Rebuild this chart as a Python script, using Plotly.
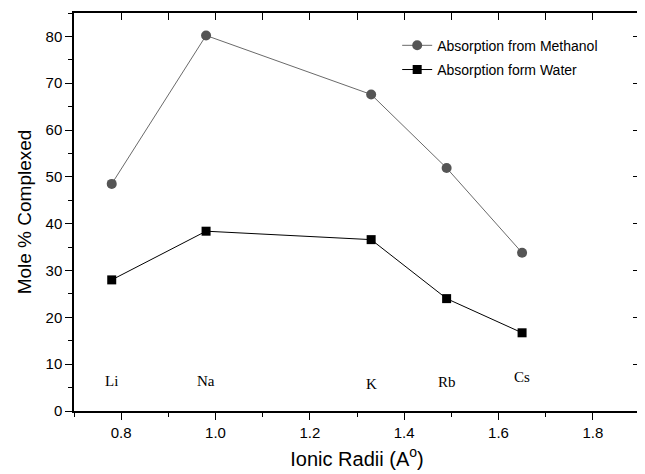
import plotly.graph_objects as go

# Data
elements = ["Li", "Na", "K", "Rb", "Cs"]
ionic_radii = [0.78, 0.98, 1.33, 1.49, 1.65]
methanol = [48.5, 80.2, 67.6, 51.9, 33.8]
water = [28.0, 38.4, 36.6, 24.0, 16.7]
label_y = [6.5, 6.5, 5.8, 6.3, 7.2]
x_ticks = [0.8, 1.0, 1.2, 1.4, 1.6, 1.8]
y_ticks = [0, 10, 20, 30, 40, 50, 60, 70, 80]

fig = go.Figure()
fig.add_trace(go.Scatter(
    x=ionic_radii, y=methanol, mode="lines+markers",
    name="Absorption from Methanol", legendgroup="a",
    line=dict(color="#6a6a6a", width=1),
    marker=dict(symbol="circle", size=10, color="#555555"),
))
fig.add_trace(go.Scatter(
    x=ionic_radii, y=water, mode="lines+markers",
    name="Absorption form Water", legendgroup="b",
    line=dict(color="#000000", width=1),
    marker=dict(symbol="square", size=9, color="#000000"),
))
# invisible trace to activate mirror axes
fig.add_trace(go.Scatter(
    x=ionic_radii, y=methanol, mode="markers", xaxis="x2", yaxis="y2",
    marker=dict(opacity=0), showlegend=False, hoverinfo="skip",
))

for el, xv, yv in zip(elements, ionic_radii, label_y):
    fig.add_annotation(x=xv, y=yv, text=el, showarrow=False,
                       font=dict(family="Liberation Serif", size=15, color="#000"))

axis_font = dict(family="Liberation Sans", size=15, color="#000")
fig.update_layout(
    width=637, height=466,
    margin=dict(l=66, r=5, t=5, b=63),
    paper_bgcolor="white", plot_bgcolor="white",
    font=dict(family="Liberation Sans", color="#000"),
    showlegend=True,
    legend=dict(x=0.571, y=0.958, xanchor="left", yanchor="top",
                bgcolor="rgba(0,0,0,0)", font=dict(size=14),
                traceorder="grouped", tracegroupgap=3),
    xaxis=dict(range=[0.7, 1.9], tickvals=x_ticks, ticktext=[f"{v:.1f}" for v in x_ticks],
               ticks="outside", ticklen=7, tickwidth=1.3, tickcolor="#000",
               minor=dict(dtick=0.1, tick0=0.7, ticks="outside", ticklen=4, tickcolor="#000"),
               showline=True, linecolor="#000", linewidth=1.5, showgrid=False, zeroline=False,
               tickfont=axis_font, automargin=False,
               title=dict(text="Ionic Radii (A<sup>o</sup>)", font=dict(size=20), standoff=12)),
    yaxis=dict(range=[0, 85], tickvals=y_ticks,
               ticks="outside", ticklen=7, tickwidth=1.3, tickcolor="#000",
               minor=dict(dtick=5, tick0=0, ticks="outside", ticklen=4, tickcolor="#000"),
               showline=True, linecolor="#000", linewidth=1.5, showgrid=False, zeroline=False,
               tickfont=axis_font, automargin=False,
               title=dict(text="Mole % Complexed", font=dict(size=19), standoff=9)),
    xaxis2=dict(overlaying="x", side="top", range=[0.7, 1.9], dtick=0.1, tick0=0.7,
                ticks="inside", ticklen=7, tickwidth=1.3, tickcolor="#000",
                showticklabels=False, showline=True, linecolor="#000", linewidth=1.5,
                showgrid=False, zeroline=False, automargin=False),
    yaxis2=dict(overlaying="y", side="right", range=[0, 85], dtick=10, tick0=0,
                ticks="inside", ticklen=7, tickwidth=1.3, tickcolor="#000",
                showticklabels=False, showline=True, linecolor="#000", linewidth=1.5,
                showgrid=False, zeroline=False, automargin=False),
)

fig.write_html("out.html")
